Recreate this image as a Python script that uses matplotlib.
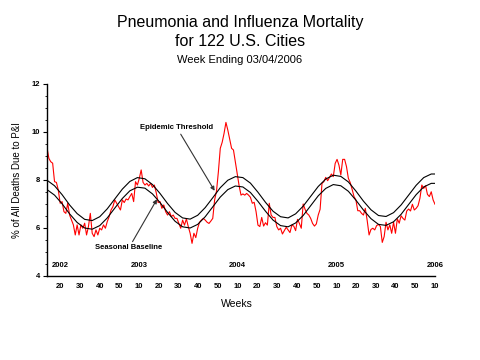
import numpy as np
import matplotlib
matplotlib.use("Agg")
import matplotlib.pyplot as plt

# weekly % of deaths due to P&I, week index 0 = first week shown (spring 2002)
pi_pct = [
    9.35, 8.90, 8.76, 8.70, 7.93, 7.90, 7.58, 7.03, 7.10, 6.68,
    6.61, 7.03, 6.54, 6.33, 6.13, 5.71, 6.13, 5.71, 6.13, 5.99,
    6.20, 5.71, 6.06, 6.61, 5.78, 5.64, 5.92, 5.71, 5.99, 5.92,
    6.13, 5.99, 6.27, 6.47, 6.75, 6.89, 7.17, 7.03, 6.89, 6.75,
    7.17, 7.06, 7.21, 7.17, 7.31, 7.44, 7.10, 7.93, 7.79, 8.07,
    8.42, 7.90, 7.79, 7.86, 7.75, 7.86, 7.69, 7.79, 7.47, 7.06,
    7.10, 6.82, 6.96, 6.68, 6.54, 6.68, 6.47, 6.54, 6.40, 6.40,
    6.19, 5.99, 6.33, 6.12, 6.38, 6.06, 5.78, 5.36, 5.78, 5.60,
    5.99, 6.24, 6.33, 6.40, 6.33, 6.24, 6.19, 6.29, 6.40, 7.17,
    7.54, 8.35, 9.32, 9.57, 9.94, 10.40, 10.08, 9.71, 9.32, 9.25,
    8.76, 8.28, 7.76, 7.37, 7.42, 7.37, 7.44, 7.37, 7.28, 7.03,
    7.07, 6.68, 6.12, 6.06, 6.44, 6.08, 6.22, 6.12, 7.03, 6.54,
    6.44, 6.44, 6.06, 5.92, 5.99, 5.75, 5.89, 6.03, 5.92, 5.81,
    6.12, 6.08, 5.89, 6.36, 6.19, 5.99, 7.00, 6.78, 6.61, 6.54,
    6.40, 6.19, 6.08, 6.17, 6.54, 6.78, 7.86, 7.93, 8.11, 7.97,
    8.11, 8.25, 8.14, 8.69, 8.86, 8.62, 8.21, 8.86, 8.86, 8.56,
    8.07, 7.89, 7.61, 7.31, 7.17, 6.72, 6.72, 6.61, 6.54, 6.82,
    6.31, 5.71, 5.94, 5.99, 5.92, 6.10, 6.15, 6.06, 5.40, 5.64,
    6.24, 5.92, 6.13, 5.78, 6.24, 5.78, 6.38, 6.20, 6.51, 6.40,
    6.33, 6.71, 6.79, 6.71, 6.99, 6.75, 6.82, 6.93, 7.24, 7.79,
    7.65, 7.76, 7.40, 7.31, 7.51, 7.17, 6.99,
]

# seasonal baseline / epidemic threshold, read every 4 weeks
curve_weeks = [0, 4, 8, 12, 16, 20, 24, 28, 32, 36, 40, 44, 48, 52,
               56, 60, 64, 68, 72, 76, 80, 84, 88, 92, 96, 100, 104,
               108, 112, 116, 120, 124, 128, 132, 136, 140, 144, 148,
               152, 156, 160, 164, 168, 172, 176, 180, 184, 188, 192,
               196, 200, 204, 206]
baseline = [7.60, 7.37, 7.01, 6.59, 6.23, 6.00, 5.95, 6.10, 6.42, 6.83,
            7.23, 7.55, 7.70, 7.66, 7.42, 7.06, 6.65, 6.28, 6.05, 6.00,
            6.15, 6.47, 6.88, 7.29, 7.60, 7.75, 7.71, 7.48, 7.11, 6.70,
            6.33, 6.10, 6.05, 6.21, 6.52, 6.93, 7.34, 7.65, 7.81, 7.76,
            7.53, 7.16, 6.75, 6.39, 6.15, 6.11, 6.26, 6.57, 6.98, 7.39,
            7.71, 7.86, 7.86]
threshold = [7.99, 7.76, 7.39, 6.96, 6.60, 6.36, 6.31, 6.47, 6.80, 7.21,
             7.62, 7.94, 8.10, 8.05, 7.81, 7.44, 7.02, 6.65, 6.42, 6.37,
             6.53, 6.85, 7.26, 7.68, 7.99, 8.14, 8.10, 7.87, 7.49, 7.07,
             6.70, 6.47, 6.42, 6.59, 6.91, 7.32, 7.73, 8.04, 8.20, 8.15,
             7.92, 7.54, 7.12, 6.76, 6.52, 6.48, 6.64, 6.96, 7.37, 7.78,
             8.10, 8.25, 8.25]

tick_labels = ["20", "30", "40", "50", "10", "20", "30", "40", "50", "10",
               "20", "30", "40", "50", "10", "20", "30", "40", "50", "10"]
year_labels = {0: "2002", 4: "2003", 9: "2004", 14: "2005", 19: "2006"}

FONT = ["Liberation Sans", "DejaVu Sans"]
plt.rcParams["font.family"] = FONT

fig = plt.figure(figsize=(4.8, 3.6), dpi=100)
ax = fig.add_axes([47 / 480, 1 - 276 / 360, 388 / 480, 192 / 360])

weeks = np.arange(len(pi_pct))
ax.plot(weeks, pi_pct, color="#FF0000", linewidth=0.8)
ax.plot(curve_weeks, baseline, color="black", linewidth=0.8)
ax.plot(curve_weeks, threshold, color="black", linewidth=0.8)

ax.set_xlim(0, weeks[-1])
ax.set_ylim(4, 12)

for side in ["top", "right"]:
    ax.spines[side].set_visible(False)
ax.spines["left"].set_linewidth(1.0)
ax.spines["bottom"].set_linewidth(1.0)

ticks = np.linspace(7, weeks[-1], len(tick_labels))
ax.set_xticks(ticks)
ax.set_xticklabels(tick_labels, fontsize=5.5, fontweight="bold")
ax.tick_params(axis="x", length=0, pad=5)

ax.set_yticks([4, 6, 8, 10, 12])
ax.set_yticks(np.arange(4, 12, 0.5), minor=True)
ax.tick_params(axis="y", which="major", length=3, width=0.8, labelsize=5.5, pad=2)
ax.tick_params(axis="y", which="minor", length=1.5, width=0.6)
for lab in ax.get_yticklabels():
    lab.set_fontweight("bold")

for k, yr in year_labels.items():
    ax.text(ticks[k], 4.45, yr, ha="center", va="center",
            fontsize=5.5, fontweight="bold")

ax.set_ylabel("% of All Deaths Due to P&I", fontsize=7, labelpad=7)
ax.set_xlabel("Weeks", fontsize=7.5)
ax.xaxis.set_label_coords((237 - 47) / 388, -0.12)

arrow = dict(arrowstyle="-|>", color="#333333", lw=0.8, mutation_scale=6,
             shrinkA=0, shrinkB=0)
ax.annotate("Epidemic Threshold", xy=(89, 7.55), xytext=(69, 10.17),
            ha="center", va="center", fontsize=5.5, fontweight="bold",
            arrowprops=arrow)
ax.annotate("Seasonal Baseline", xy=(58.4, 7.2), xytext=(43.5, 5.17),
            ha="center", va="center", fontsize=5.5, fontweight="bold",
            arrowprops=arrow)

fig.text(0.5, 1 - 22 / 360, "Pneumonia and Influenza Mortality",
         ha="center", va="center", fontsize=11.5)
fig.text(0.5, 1 - 41 / 360, "for 122 U.S. Cities",
         ha="center", va="center", fontsize=11.5)
fig.text(0.5, 1 - 60 / 360, "Week Ending 03/04/2006",
         ha="center", va="center", fontsize=8)

fig.savefig("out.png", dpi=100)
